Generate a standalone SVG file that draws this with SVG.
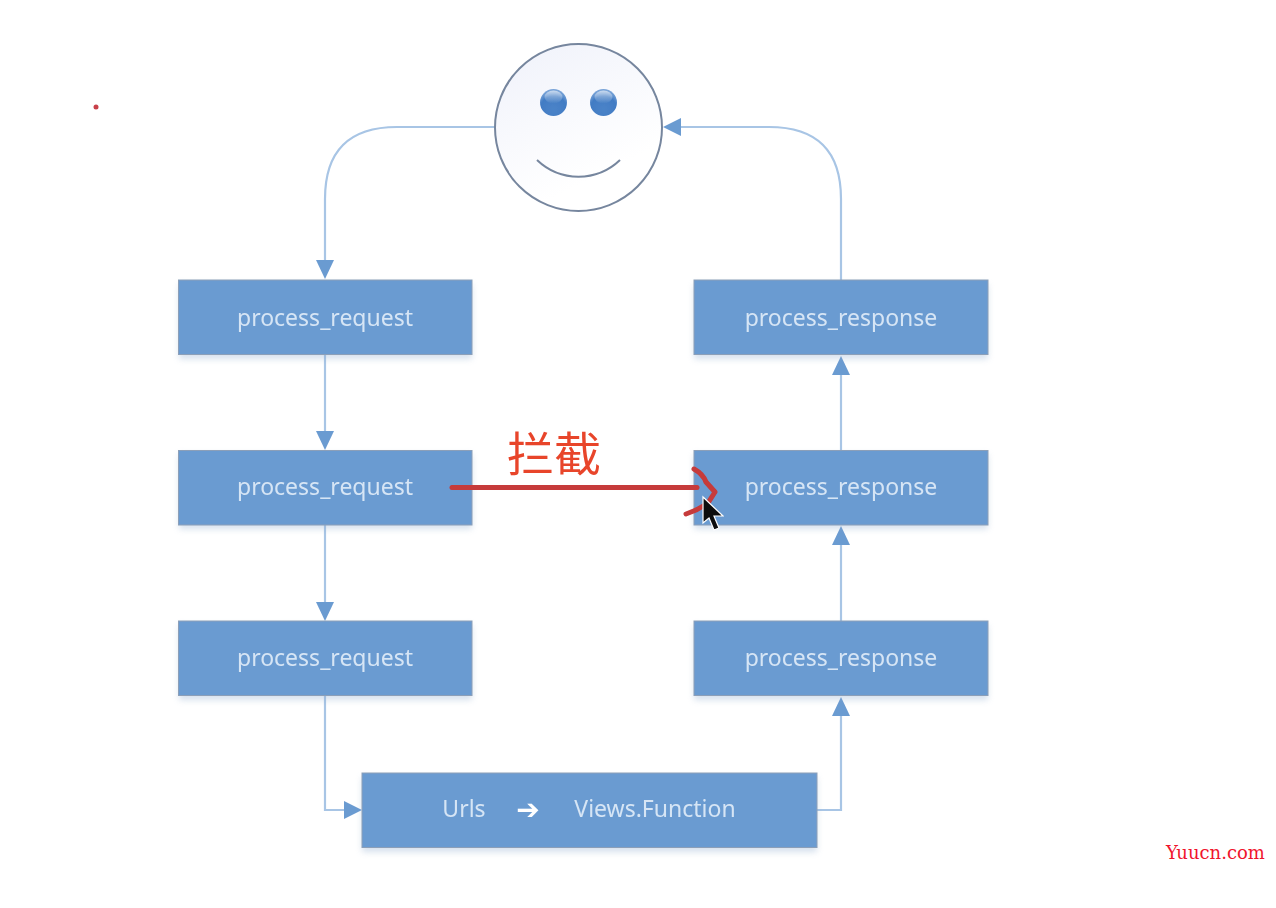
<svg xmlns="http://www.w3.org/2000/svg" width="1276" height="908" viewBox="0 0 1276 908">
<style>
.box{fill:#6b9bd1;stroke:#8c9fb8;stroke-width:1}
.lbl{font-family:"Noto Sans","Open Sans",sans-serif;font-size:23px;fill:#d6e5f5;text-anchor:middle}
.con{fill:none;stroke:#a8c5e5;stroke-width:2.200}
.head{fill:#6b9bd1}
</style>
<defs>
<filter id="sh" x="-10%" y="-20%" width="120%" height="150%"><feGaussianBlur stdDeviation="3"/></filter>
<filter id="t" x="-5%" y="-20%" width="110%" height="140%"><feGaussianBlur stdDeviation="0.5"/></filter>
<filter id="r" filterUnits="userSpaceOnUse" x="430" y="450" width="310" height="90"><feGaussianBlur stdDeviation="0.6"/></filter>
<linearGradient id="face" x1="0.2" y1="0" x2="0.6" y2="0.8"><stop offset="0" stop-color="#f1f3fb"/><stop offset="1" stop-color="#ffffff"/></linearGradient>
<radialGradient id="eye" cx="0.5" cy="0.75" r="0.7"><stop offset="0" stop-color="#4a83c8"/><stop offset="0.7" stop-color="#427cc4"/><stop offset="1" stop-color="#7aa4d8"/></radialGradient>
<linearGradient id="gl" x1="0" y1="0" x2="0" y2="1"><stop offset="0" stop-color="#fff" stop-opacity="0.6"/><stop offset="1" stop-color="#fff" stop-opacity="0"/></linearGradient>
</defs>
<rect width="1276" height="908" fill="#ffffff"/>
<circle cx="96" cy="107" r="2.500" fill="#c8404a" filter="url(#t)"/>

<g id="connectors" filter="url(#t)">
<path class="con" d="M495 127H397Q325 127 325 199V262"/>
<path class="head" d="M316 260H334L325 279Z"/>
<path class="con" d="M325 355V433"/>
<path class="head" d="M316 431H334L325 450Z"/>
<path class="con" d="M325 525V604"/>
<path class="head" d="M316 602H334L325 621Z"/>
<path class="con" d="M325 696V810H346"/>
<path class="head" d="M344 801V819L362 810Z"/>
<path class="con" d="M817 810H841V714"/>
<path class="head" d="M832 716H850L841 697Z"/>
<path class="con" d="M841 621V543"/>
<path class="head" d="M832 545H850L841 526Z"/>
<path class="con" d="M841 450V373"/>
<path class="head" d="M832 375H850L841 356Z"/>
<path class="con" d="M841 280V199Q841 127 769 127H680"/>
<path class="head" d="M681 118V136L663 127Z"/>
</g>

<g id="smiley" filter="url(#t)">
<circle cx="578.500" cy="127.500" r="83.500" fill="url(#face)" stroke="#76869e" stroke-width="2"/>
<circle cx="553.500" cy="102.500" r="13.500" fill="url(#eye)"/>
<ellipse cx="553.500" cy="97" rx="9" ry="6.500" fill="url(#gl)"/>
<circle cx="603.500" cy="102.500" r="13.500" fill="url(#eye)"/>
<ellipse cx="603.500" cy="97" rx="9" ry="6.500" fill="url(#gl)"/>
<path d="M537 160A60 60 0 0 0 620 160" fill="none" stroke="#76869e" stroke-width="2"/>
</g>

<g id="shadows" fill="#8aa8cc" opacity="0.35" filter="url(#sh)">
<rect x="179" y="284" width="293" height="75"/>
<rect x="179" y="454" width="293" height="75"/>
<rect x="179" y="625" width="293" height="75"/>
<rect x="694" y="284" width="294" height="75"/>
<rect x="694" y="454" width="294" height="75"/>
<rect x="694" y="625" width="294" height="75"/>
<rect x="362" y="777" width="455" height="75"/>
</g>

<g id="req1"><rect class="box" x="178.500" y="280" width="293.500" height="74.500" filter="url(#t)"/><text class="lbl" x="325" y="325.500" filter="url(#t)">process_request</text></g>
<g id="req2"><rect class="box" x="178.500" y="450.500" width="293.500" height="74.500" filter="url(#t)"/><text class="lbl" x="325" y="495" filter="url(#t)">process_request</text></g>
<g id="req3"><rect class="box" x="178.500" y="621" width="293.500" height="74.500" filter="url(#t)"/><text class="lbl" x="325" y="666" filter="url(#t)">process_request</text></g>
<g id="res1"><rect class="box" x="694" y="280" width="294" height="74.500" filter="url(#t)"/><text class="lbl" x="841" y="325.500" filter="url(#t)">process_response</text></g>
<g id="res2"><rect class="box" x="694" y="450.500" width="294" height="74.500" filter="url(#t)"/><text class="lbl" x="841" y="495" filter="url(#t)">process_response</text></g>
<g id="res3"><rect class="box" x="694" y="621" width="294" height="74.500" filter="url(#t)"/><text class="lbl" x="841" y="666" filter="url(#t)">process_response</text></g>
<g id="urls"><rect class="box" x="362" y="773" width="455" height="74.500" filter="url(#t)"/>
<text class="lbl" x="464" y="817" filter="url(#t)">Urls</text>
<text x="528" y="819" font-family="DejaVu Sans,sans-serif" font-size="28" font-weight="bold" fill="#ffffff" text-anchor="middle" filter="url(#t)">➔</text>
<text class="lbl" x="655" y="817" filter="url(#t)">Views.Function</text></g>

<g id="annotation">
<text x="507" y="471" font-family="'Noto Sans CJK SC',sans-serif" font-size="47" fill="#e8452c" filter="url(#t)">拦截</text>
<g filter="url(#r)" fill="none" stroke="#c63a3a" stroke-linecap="round" stroke-linejoin="round">
<path d="M452 487.500H697" stroke-width="5"/>
<path d="M694 469Q703 474 706 482L715 492L708 503Q698 510 686 514" stroke-width="5"/>
</g>
<path d="M703 497V523L709 518L714 530L719 528L714 516L723 516Z" fill="#111" stroke="#fff" stroke-width="1.200" filter="url(#t)"/>
</g>

<text x="1166" y="859" font-family="'DejaVu Serif',serif" font-size="18" fill="#f0142d">Yuucn.com</text>
</svg>
